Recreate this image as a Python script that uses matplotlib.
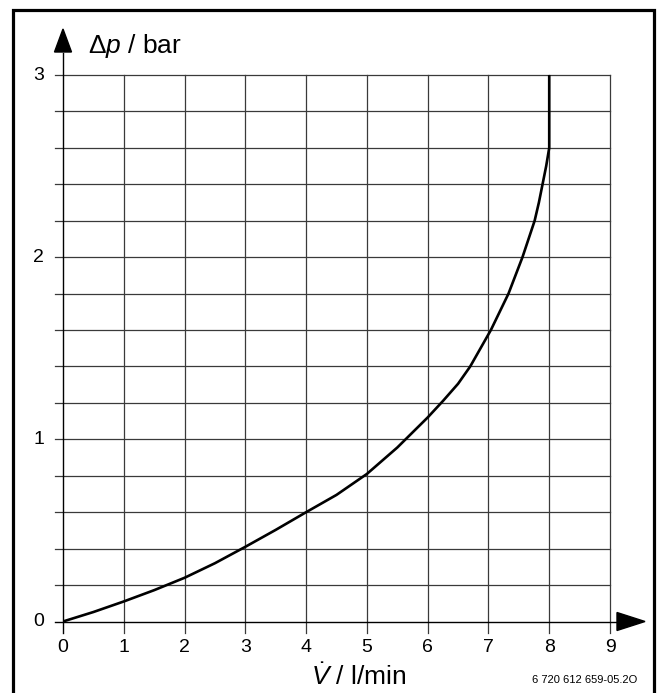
import matplotlib
matplotlib.use("Agg")
import matplotlib.pyplot as plt
from matplotlib.patches import Polygon, Rectangle

plt.rcParams["font.family"] = ["Liberation Sans", "DejaVu Sans"]
plt.rcParams["mathtext.fontset"] = "custom"
plt.rcParams["mathtext.rm"] = "Liberation Sans"
plt.rcParams["mathtext.it"] = "Liberation Sans:italic"

# Pressure drop over flow rate
flow_lpm = [0, 0.5, 1, 1.5, 2, 2.5, 3, 3.5, 4, 4.5, 5, 5.5, 6, 6.25, 6.5, 6.7,
            7.04, 7.33, 7.56, 7.76, 7.83, 7.89, 7.95, 8.0, 8.0]
dp_bar = [0, 0.052, 0.11, 0.172, 0.24, 0.32, 0.41, 0.503, 0.60, 0.695, 0.81, 0.955, 1.12,
          1.21, 1.305, 1.40, 1.6, 1.8, 2.0, 2.2, 2.3, 2.4, 2.5, 2.6, 3.0]

x_ticks = [0, 1, 2, 3, 4, 5, 6, 7, 8, 9]
y_ticks = [0, 1, 2, 3]
y_minor = [0.2 * i for i in range(1, 16)]

W, H = 658, 693
fig = plt.figure(figsize=(W / 100, H / 100), dpi=100)

# axes placement in pixels
x0_px, x9_px = 63, 610
y0_px, y3_px = 621.5, 75
ax = fig.add_axes([x0_px / W, (H - y0_px) / H, (x9_px - x0_px) / W, (y0_px - y3_px) / H])
ax.set_xlim(0, 9)
ax.set_ylim(0, 3)
ax.axis("off")

px_x = 9 / (x9_px - x0_px)   # data units per pixel, x
px_y = 3 / (y0_px - y3_px)   # data units per pixel, y

grid_kw = dict(color="#3a3a3a", lw=0.9, clip_on=False, zorder=1)

# horizontal grid lines (with short tick stubs on the left)
for yv in y_minor:
    ax.plot([-8 * px_x, 9], [yv, yv], **grid_kw)

# vertical grid lines (with tick stubs below)
for xv in x_ticks[1:]:
    ax.plot([xv, xv], [-11 * px_y, 3], **grid_kw)

# x axis with arrow
ax.plot([-8 * px_x, 9 + 10 * px_x], [0, 0], color="black", lw=1.0, clip_on=False, zorder=2)
ax.add_patch(Polygon([[9 + 7 * px_x, 9 * px_y], [9 + 35 * px_x, 0], [9 + 7 * px_x, -9 * px_y]],
                     closed=True, color="black", clip_on=False, zorder=3))
# y axis with arrow
ax.plot([0, 0], [-11 * px_y, 3 + 22 * px_y], color="black", lw=1.0, clip_on=False, zorder=2)
ax.add_patch(Polygon([[-8.5 * px_x, 3 + 23 * px_y], [0, 3 + 46 * px_y], [8.5 * px_x, 3 + 23 * px_y]],
                     closed=True, color="black", clip_on=False, zorder=3))

# curve
ax.plot(flow_lpm, dp_bar, color="black", lw=1.9, zorder=4, solid_joinstyle="round",
        solid_capstyle="butt")

# tick labels
for xv in x_ticks:
    ax.text(xv, -26 * px_y, str(xv), ha="center", va="center", fontsize=14)
for yv in y_ticks:
    ax.text(-19 * px_x, yv, str(yv), ha="right", va="center", fontsize=14)

# axis titles
fig.text(88 / W, 1 - 46 / H, r"$\Delta\mathit{p}$ / bar", ha="left", va="center", fontsize=19)
fig.text(311 / W, 1 - 677 / H, r"$\dot{\mathit{V}}$ / l/min", ha="left", va="center", fontsize=19)
fig.text(637 / W, 1 - 680 / H, "6 720 612 659-05.2O", ha="right", va="center", fontsize=8)

# outer frame
fig.patches.append(Rectangle((13 / W, -0.05), (654 - 13) / W, 1 - 10 / H + 0.05,
                             transform=fig.transFigure, fill=False, lw=2.3,
                             edgecolor="black", zorder=10))

fig.savefig("out.png", dpi=100)
